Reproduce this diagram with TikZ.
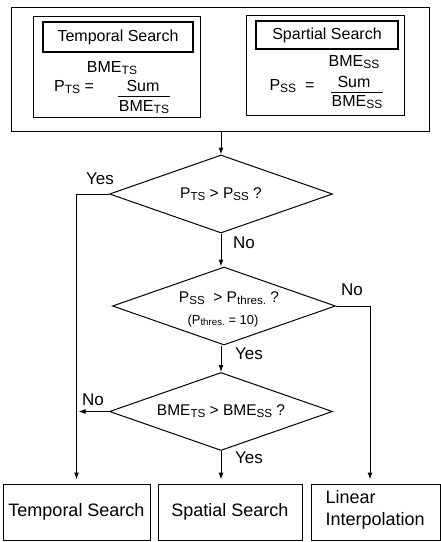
\documentclass[tikz,border=0pt]{standalone}
\usepackage{fontspec}
\usepackage{graphicx}
\setmainfont{Liberation Sans}
\usetikzlibrary{shapes.geometric,arrows.meta}
\newcommand\lo[1]{\raisebox{-0.12em}{\scalebox{0.75}{#1}}}
\begin{document}
\begin{tikzpicture}[x=1pt,y=-1pt,line width=1pt,
  frame/.style={draw,inner sep=0},
  titlebox/.style={draw,line width=2.2pt,inner sep=0,font=\fontsize{16}{18}\selectfont},
  dia/.style={draw,diamond,aspect=2.87,inner sep=0,minimum width=223pt,minimum height=78pt,font=\fontsize{15.5}{17}\selectfont},
  txt/.style={inner sep=0,font=\fontsize{16}{18}\selectfont},
  lbl/.style={inner sep=0,font=\fontsize{17}{19}\selectfont},
  endbox/.style={draw,inner sep=0,minimum height=56pt,font=\fontsize{18}{21}\selectfont},
  arr/.style={-{Latex[length=7pt,width=5pt]}}]
\useasboundingbox (0,0) rectangle (441,542);
% top block
\node[frame,minimum width=418pt,minimum height=124pt] (outer) at (220,69) {};
\node[frame,minimum width=167pt,minimum height=101pt] (tsbox) at (116.5,66.5) {};
\node[titlebox,minimum width=150pt,minimum height=30pt] (tstitle) at (118,37) {Temporal Search};
\node[frame,minimum width=158pt,minimum height=100pt] (ssbox) at (325,65) {};
\node[titlebox,minimum width=142pt,minimum height=28pt] (sstitle) at (327,35) {Spartial Search};
\node[txt] (bmets) at (112,68) {BME\lo{TS}};
\node[txt] (pts) at (74,87) {P\lo{TS} =};
\node[txt] (sum1) at (143,86) {Sum};
\node[txt] (den1) at (144,107) {BME\lo{TS}};
\draw[line width=1.2pt] (sum1.south west -| den1.west) ++(0,4) coordinate (f1a) -- (f1a -| den1.east);
\node[txt] (bmess) at (354,62) {BME\lo{SS}};
\node[txt] (pss) at (292,86) {P\lo{SS}\ \ =};
\node[txt] (sum2) at (354,82) {Sum};
\node[txt] (den2) at (357,102) {BME\lo{SS}};
\draw[line width=1.2pt] (sum2.south west -| den2.west) ++(0,4) coordinate (f2a) -- (f2a -| den2.east);
% decisions
\node[dia] (d1) at (221,194) {P\lo{TS} > P\lo{SS} ?};
\node[dia] (d2) at (224,306) {};
\node[inner sep=0,font=\fontsize{15.5}{17}\selectfont] (d2t) at (229,298) {P\lo{SS}\ \ > P\lo{thres.} ?};
\node[inner sep=0,font=\fontsize{13}{15}\selectfont] (d2s) at (223,321) {(P\lo{thres.} = 10)};
\node[dia] (d3) at (221,411.5) {BME\lo{TS} > BME\lo{SS} ?};
% end boxes
\node[endbox,minimum width=147pt] (ts) at (76.5,512) {Temporal Search};
\node[endbox,minimum width=144pt] (ss) at (230,512) {Spatial Search};
\node[endbox,minimum width=129pt] (li) at (375.5,512) {};
\node[inner sep=0,font=\fontsize{18}{22}\selectfont,align=left,anchor=west] (litxt) at (325,510) {Linear\\Interpolation};
% connectors
\draw[arr] (outer.south -| d1.north) -- (d1.north);
\draw[arr,shorten >=4pt] (d1.west) -| (ts.north);
\draw[arr] (d1.south) -- (d1.south |- d2.north);
\coordinate (rc) at (370,306);
\draw[arr,shorten >=4pt] (d2.east) -- (rc) -- (rc |- li.north);
\draw[arr] (d2.south -| d1.south) -- (d3.north);
\draw[arr,shorten >=2pt] (d3.west) -- (d3.west -| ts.north);
\draw[arr,shorten >=4pt] (d3.south) -- (d3.south |- ss.north);
% labels
\node[lbl] (y1) at (100,179) {Yes};
\node[lbl] (n1) at (244,243) {No};
\node[lbl] (n2) at (352,290) {No};
\node[lbl] (y2) at (249,354) {Yes};
\node[lbl] (n3) at (93,400) {No};
\node[lbl] (y3) at (249,458) {Yes};
\end{tikzpicture}
\end{document}
